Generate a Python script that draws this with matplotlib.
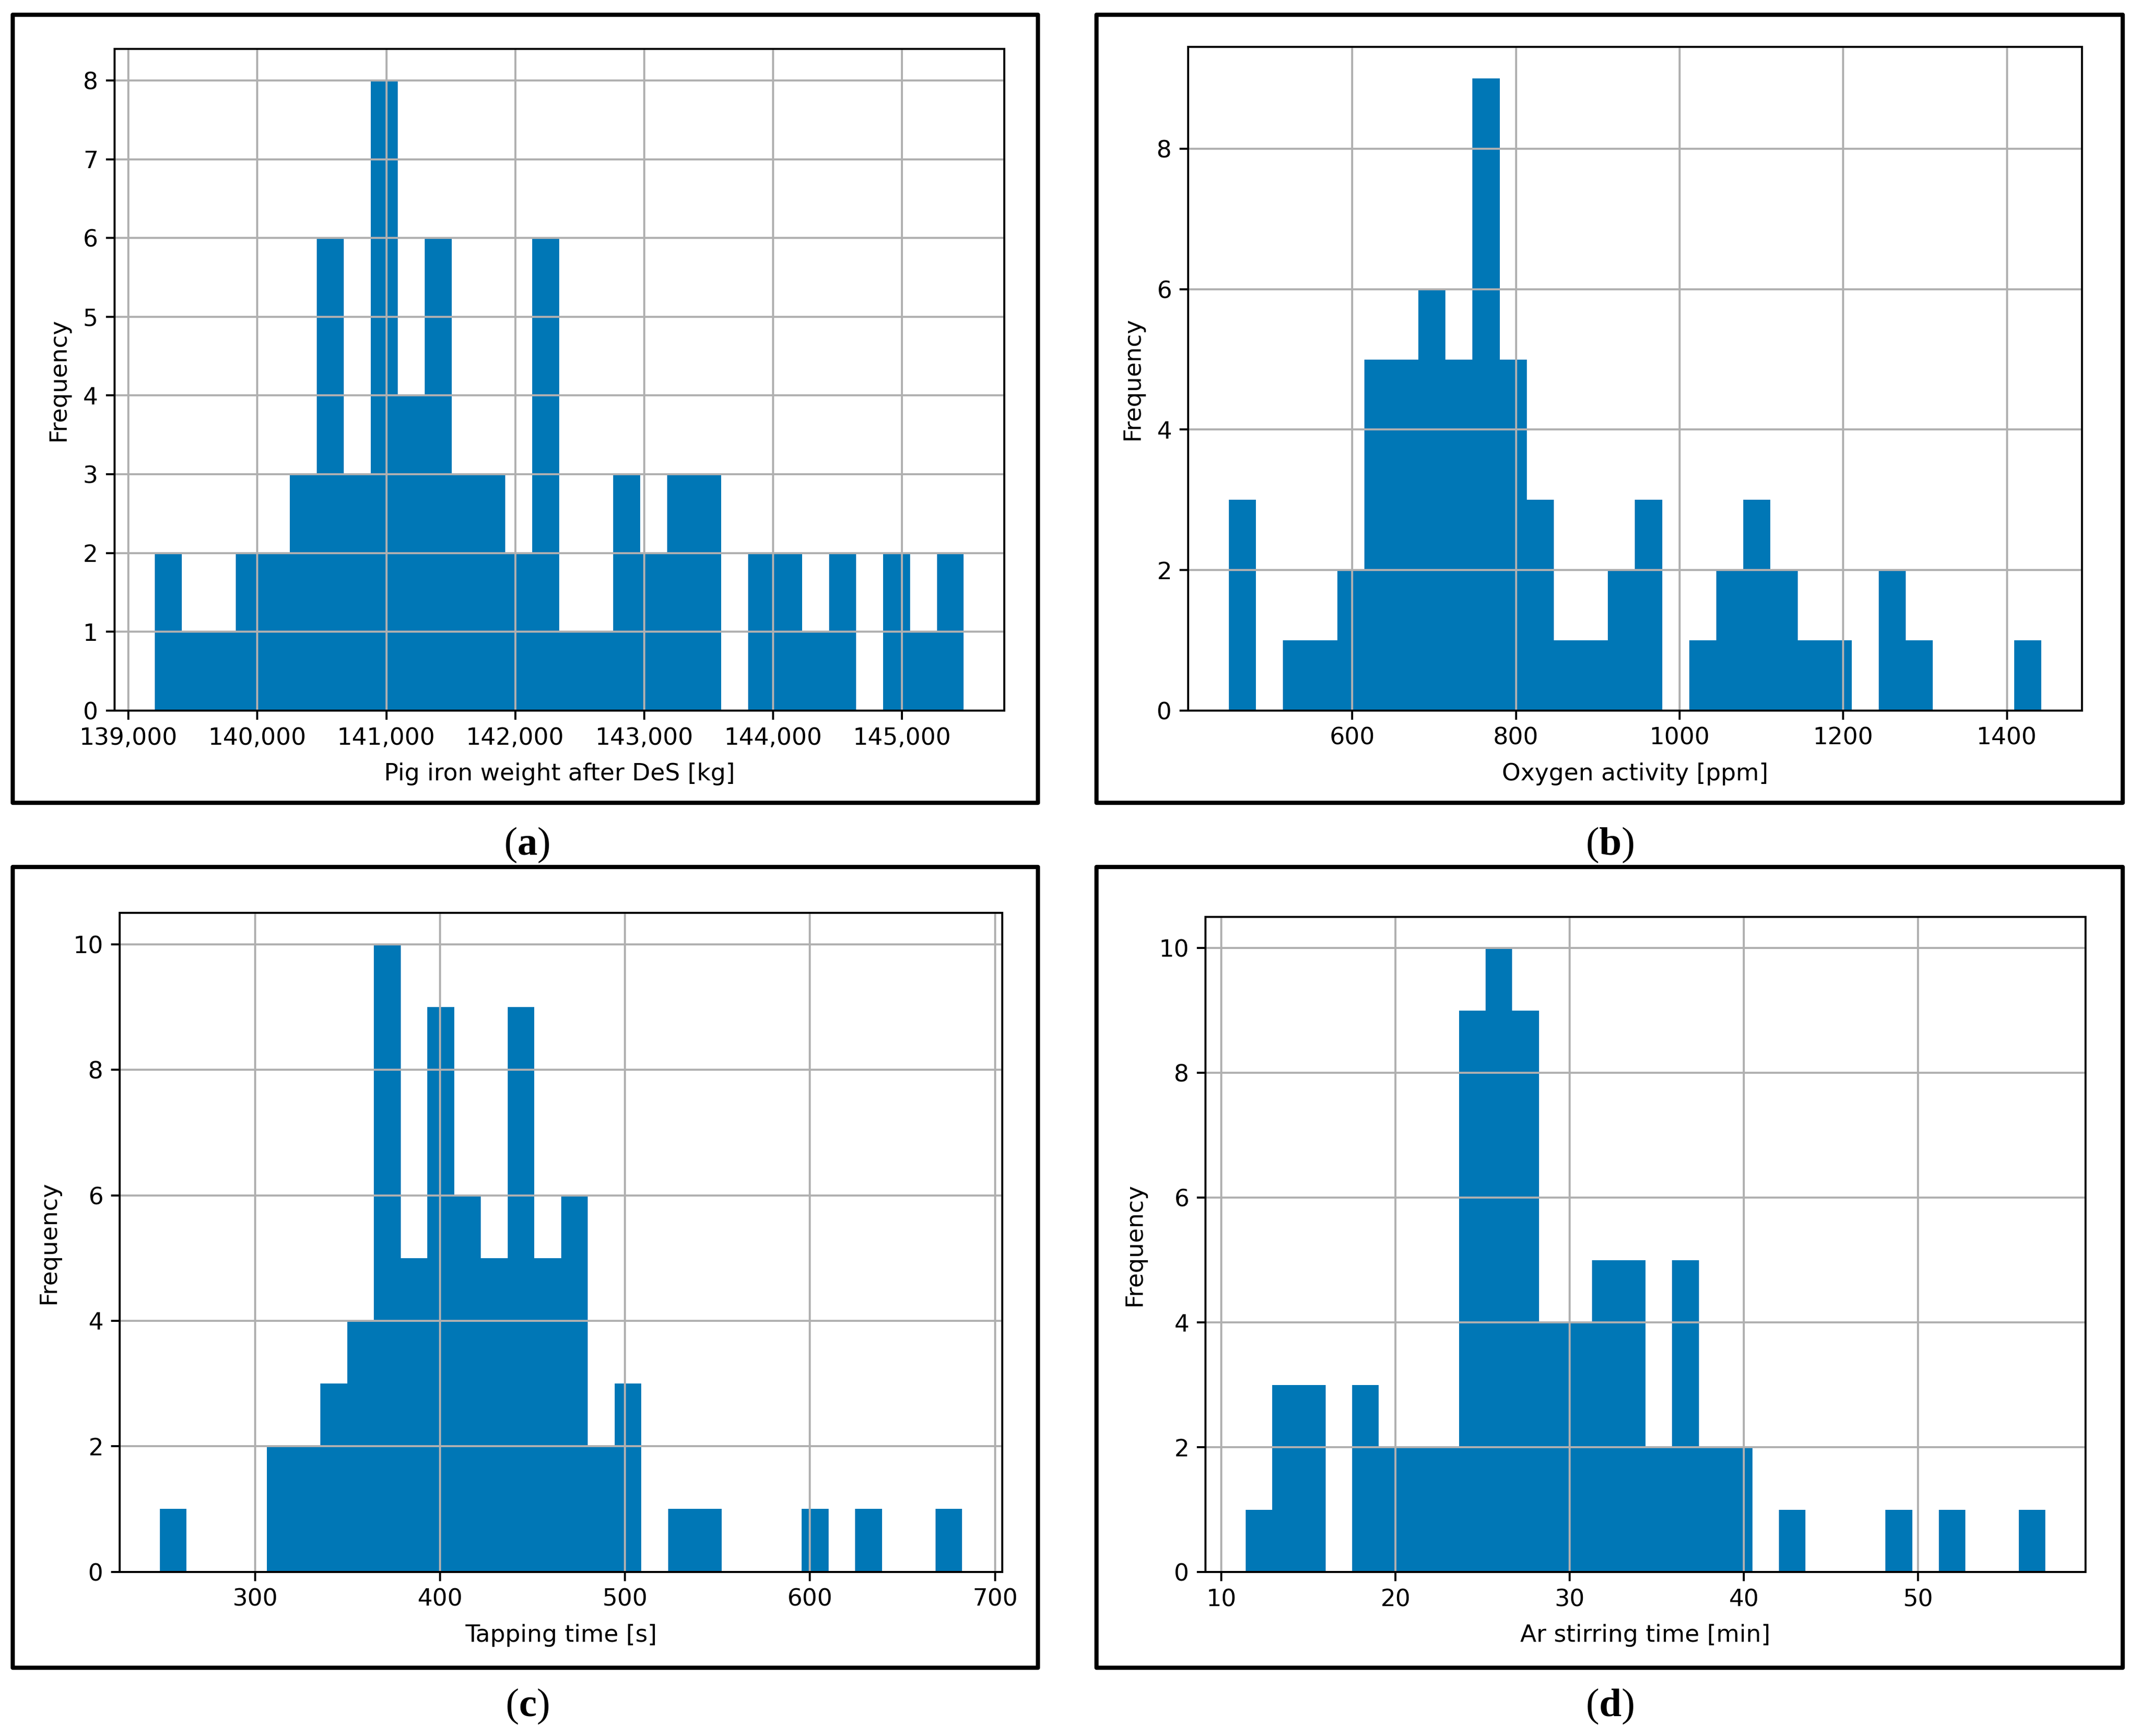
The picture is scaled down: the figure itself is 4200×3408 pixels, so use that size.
import numpy as np
import matplotlib
matplotlib.use("Agg")
import matplotlib.pyplot as plt
from matplotlib.patches import Rectangle
from matplotlib.ticker import FuncFormatter

# ---------------- data ----------------
# (a) Pig iron weight after DeS [kg], 30 bins
a_range = (139205, 145479)
a_counts = [2, 1, 1, 2, 2, 3, 6, 3, 8, 4, 6, 3, 3, 2, 6,
            1, 1, 3, 2, 3, 3, 0, 2, 2, 1, 2, 0, 2, 1, 2]
# (b) Oxygen activity [ppm]
b_range = (449, 1442)
b_counts = [3, 0, 1, 1, 2, 5, 5, 6, 5, 9, 5, 3, 1, 1, 2,
            3, 0, 1, 2, 3, 2, 1, 1, 0, 2, 1, 0, 0, 0, 1]
# (c) Tapping time [s]
c_range = (248.5, 682.3)
c_counts = [1, 0, 0, 0, 2, 2, 3, 4, 10, 5, 9, 6, 5, 9, 5,
            6, 2, 3, 0, 1, 1, 0, 0, 0, 1, 0, 1, 0, 0, 1]
# (d) Ar stirring time [min]
d_range = (11.38, 57.32)
d_counts = [1, 3, 3, 0, 3, 2, 2, 2, 9, 10, 9, 4, 4, 5, 5,
            2, 5, 2, 2, 0, 1, 0, 0, 0, 1, 0, 1, 0, 0, 1]

xlabels = ["Pig iron weight after DeS [kg]", "Oxygen activity [ppm]",
           "Tapping time [s]", "Ar stirring time [min]"]
panel_letters = ["a", "b", "c", "d"]

# ---------------- style ----------------
plt.rcParams['font.family'] = ['DejaVu Sans']
plt.rcParams['mathtext.fontset'] = 'custom'
plt.rcParams['mathtext.rm'] = 'Liberation Serif'
plt.rcParams['mathtext.bf'] = 'Liberation Serif:bold'

BAR = '#0077b6'
FS = 11.2

fig = plt.figure(figsize=(14, 11.36), dpi=300)

axes_pos = [
    [0.0535, 0.5907, 0.4160, 0.3811],
    [0.5555, 0.5907, 0.4178, 0.3823],
    [0.0560, 0.0946, 0.4126, 0.3795],
    [0.5636, 0.0944, 0.4114, 0.3775],
]
frames = [
    (0.0060, 0.5376, 0.4792, 0.4540),
    (0.5126, 0.5376, 0.4798, 0.4540),
    (0.0060, 0.0393, 0.4792, 0.4613),
    (0.5126, 0.0393, 0.4798, 0.4613),
]
label_pos = [(0.2464, 0.5130), (0.7526, 0.5130), (0.2464, 0.0168), (0.7526, 0.0168)]

datasets = [(a_range, a_counts), (b_range, b_counts),
            (c_range, c_counts), (d_range, d_counts)]

for i, ((lo, hi), counts) in enumerate(datasets):
    ax = fig.add_axes(axes_pos[i])
    edges = np.linspace(lo, hi, len(counts) + 1)
    centers = 0.5 * (edges[:-1] + edges[1:])
    ax.hist(centers, bins=edges, weights=counts, color=BAR)
    ax.grid(True, color='#b0b0b0', linewidth=0.95)
    ax.set_xlabel(xlabels[i], fontsize=FS, labelpad=6)
    ax.set_ylabel("Frequency", fontsize=FS, labelpad=6)
    ax.tick_params(labelsize=FS, length=4.2, width=0.95)
    for s in ax.spines.values():
        s.set_linewidth(0.95)
    if i == 0:
        ax.set_xticks([139000, 140000, 141000, 142000, 143000, 144000, 145000])
        ax.xaxis.set_major_formatter(FuncFormatter(lambda v, p: f"{int(v):,}"))
        ax.set_yticks(range(0, 9))
    elif i == 1:
        ax.set_xticks([600, 800, 1000, 1200, 1400])
        ax.set_yticks([0, 2, 4, 6, 8])
    elif i == 2:
        ax.set_xticks([300, 400, 500, 600, 700])
        ax.set_yticks([0, 2, 4, 6, 8, 10])
    else:
        ax.set_xticks([10, 20, 30, 40, 50])
        ax.set_yticks([0, 2, 4, 6, 8, 10])

    fx, fy, fw, fh = frames[i]
    fig.patches.append(Rectangle((fx, fy), fw, fh, transform=fig.transFigure,
                                 fill=False, edgecolor='black', linewidth=2.0,
                                 joinstyle='round'))
    lx, ly = label_pos[i]
    fig.text(lx, ly, r"($\mathbf{" + panel_letters[i] + r"}$)",
             fontsize=19, family='Liberation Serif', ha='center', va='center')

fig.savefig("out.png", dpi=300, facecolor='white')
